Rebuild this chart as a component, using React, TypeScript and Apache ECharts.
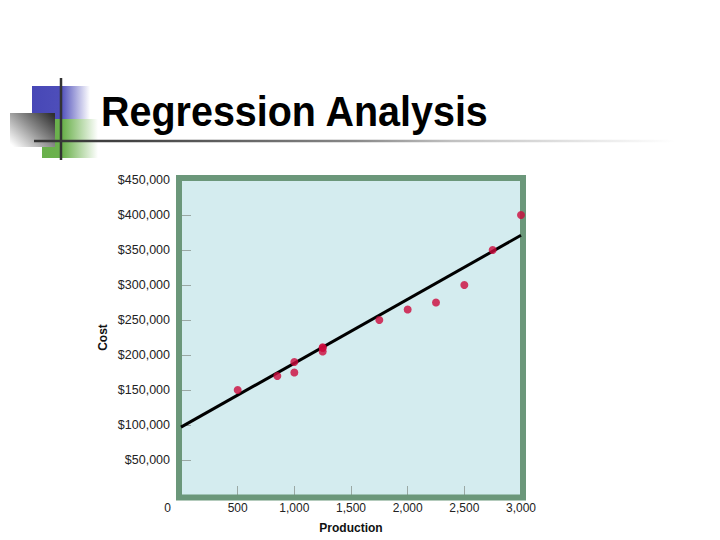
import React, { useEffect, useRef } from "react";
import * as echarts from "echarts";

const titleText = "Regression Analysis";
const xAxisName = "Production";
const yAxisName = "Cost";

const production = [500, 850, 1000, 1000, 1250, 1250, 1250, 1750, 2000, 2250, 2500, 2750, 3000];
const cost = [150000, 170000, 190000, 175000, 210000, 205000, 211000, 250000, 265000, 275000, 300000, 350000, 400000];

const regressionX = [0, 3000];
const regressionY = [97000, 371000];

const xMin = 0;
const xMax = 3000;
const xStep = 500;
const yMin = 0;
const yMax = 450000;
const yStep = 50000;

const FONT = "'Liberation Sans', Arial, Helvetica, sans-serif";

const fmt = (v: number) => v.toLocaleString("en-US");

export default function App() {
  const ref = useRef<HTMLDivElement>(null);

  useEffect(() => {
    if (!ref.current) return;
    const chart = echarts.init(ref.current, undefined, { renderer: "svg" });

    const points = production.map((x, i) => [x, cost[i]]);
    const line = regressionX.map((x, i) => [x, regressionY[i]]);

    const option: any = {
      animation: false,
      backgroundColor: "#ffffff",
      textStyle: { fontFamily: FONT },
      grid: {
        left: 181,
        top: 180,
        width: 340,
        height: 315,
        show: true,
        backgroundColor: "#d4ecef",
        borderWidth: 0,
        containLabel: false,
      },
      xAxis: {
        type: "value",
        min: xMin,
        max: xMax,
        interval: xStep,
        name: xAxisName,
        nameLocation: "middle",
        nameGap: 27,
        nameTextStyle: { fontFamily: FONT, fontSize: 12, fontWeight: "bold", color: "#111" },
        axisLine: { show: false },
        axisTick: { show: true, inside: true, length: 9, lineStyle: { color: "#9aa8a4", width: 1 } },
        splitLine: { show: false },
        axisLabel: {
          margin: 7,
          fontFamily: FONT,
          fontSize: 12,
          color: "#222",
          formatter: (v: number) => (v === 0 ? "{z|0}" : fmt(v)),
          rich: {
            z: { fontFamily: FONT, fontSize: 12, color: "#222", padding: [0, 27, 0, 0] },
          },
        },
      },
      yAxis: {
        type: "value",
        min: yMin,
        max: yMax,
        interval: yStep,
        name: yAxisName,
        nameLocation: "middle",
        nameGap: 72,
        nameTextStyle: { fontFamily: FONT, fontSize: 12, fontWeight: "bold", color: "#111" },
        axisLine: { show: false },
        axisTick: { show: true, inside: true, length: 10, lineStyle: { color: "#9aa8a4", width: 1 } },
        splitLine: { show: false },
        axisLabel: {
          margin: 11,
          fontFamily: FONT,
          fontSize: 12.5,
          color: "#222",
          formatter: (v: number) => (v === 0 ? "" : "$" + fmt(v)),
        },
      },
      graphic: [
        {
          type: "rect",
          z: 1,
          shape: { x: 179, y: 178, width: 344, height: 319.5 },
          style: { fill: "none", stroke: "#6b977a", lineWidth: 6 },
        },
        {
          type: "rect",
          shape: { x: 32, y: 86, width: 58, height: 33 },
          style: {
            fill: new echarts.graphic.LinearGradient(0, 0, 1, 0, [
              { offset: 0, color: "#4747b6" },
              { offset: 0.5, color: "#4e4eba" },
              { offset: 1, color: "#ffffff" },
            ]),
          },
        },
        {
          type: "rect",
          shape: { x: 42, y: 119, width: 56, height: 39 },
          style: {
            fill: new echarts.graphic.LinearGradient(0, 0, 1, 0, [
              { offset: 0, color: "#69b04b" },
              { offset: 0.38, color: "#6cb14e" },
              { offset: 1, color: "#ffffff" },
            ]),
          },
        },
        {
          type: "rect",
          shape: { x: 10, y: 113, width: 45, height: 34 },
          style: {
            fill: new echarts.graphic.LinearGradient(1, 0.1, 0, 0.9, [
              { offset: 0, color: "#303030" },
              { offset: 0.45, color: "#8a8a8a" },
              { offset: 1, color: "#ffffff" },
            ]),
          },
        },
        {
          type: "line",
          shape: { x1: 61, y1: 78, x2: 61, y2: 160 },
          style: { stroke: "#333333", lineWidth: 2.5 },
        },
        {
          type: "rect",
          shape: { x: 34, y: 139.75, width: 641, height: 2.5 },
          style: {
            fill: new echarts.graphic.LinearGradient(0, 0, 1, 0, [
              { offset: 0, color: "#333333" },
              { offset: 0.15, color: "#444444" },
              { offset: 0.5, color: "#888888" },
              { offset: 0.65, color: "#c0c0c0" },
              { offset: 1, color: "#ffffff" },
            ]),
          },
        },
        {
          type: "text",
          x: 101,
          y: 111.5,
          scaleX: 0.94,
          style: {
            text: titleText,
            x: 0,
            y: 0,
            fontFamily: FONT,
            fontSize: 42,
            fontWeight: "bold",
            fill: "#000000",
            align: "left",
            verticalAlign: "middle",
          },
        },
      ],
      series: [
        {
          type: "line",
          data: line,
          symbol: "none",
          z: 2,
          lineStyle: { color: "#000000", width: 3 },
          silent: true,
        },
        {
          type: "scatter",
          data: points,
          z: 3,
          symbol: "circle",
          symbolSize: 8,
          itemStyle: { color: "#cc0a3c" },
        },
      ],
    };

    chart.setOption(option);
    return () => chart.dispose();
  }, []);

  return (
    <div
      ref={ref}
      style={{ position: "fixed", left: 0, top: 0, width: 720, height: 540 }}
    />
  );
}
